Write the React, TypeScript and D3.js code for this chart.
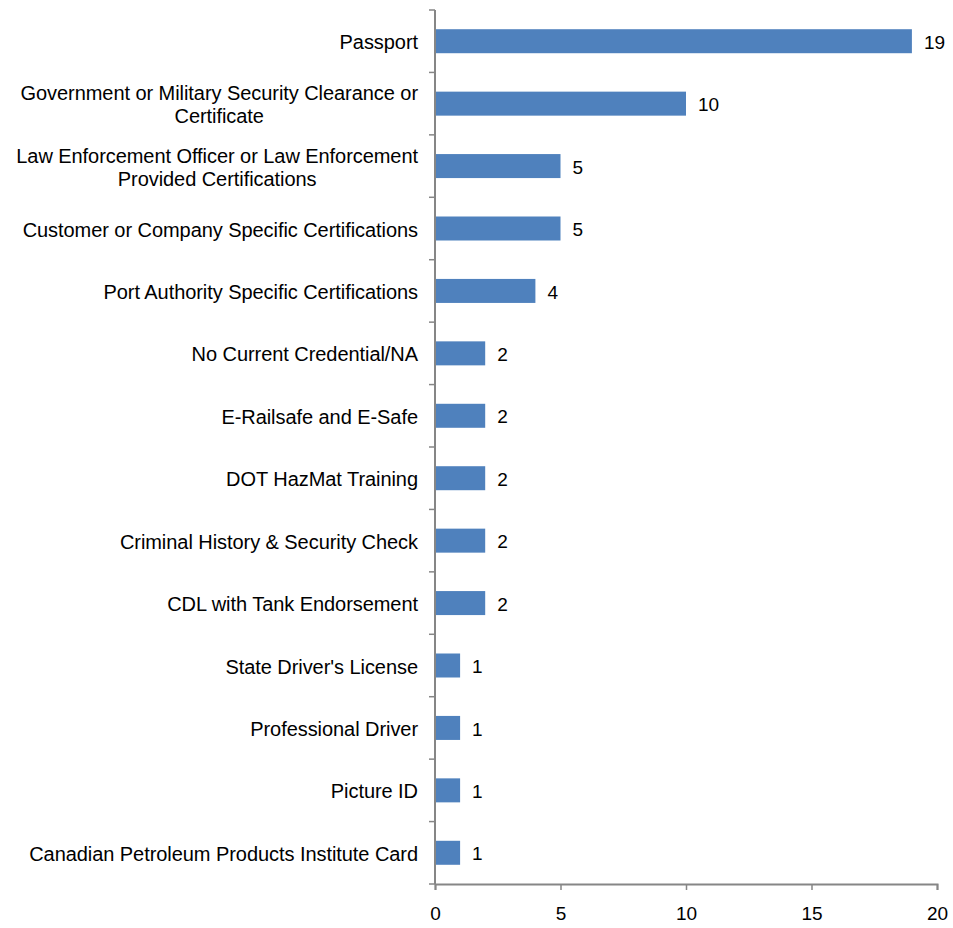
import React, { useRef, useEffect } from "react";
import * as d3 from "d3";

const categories: string[][] = [
  ["Passport"],
  ["Government or Military Security Clearance or", "Certificate"],
  ["Law Enforcement Officer or Law Enforcement", "Provided Certifications"],
  ["Customer or Company Specific Certifications"],
  ["Port Authority Specific Certifications"],
  ["No Current Credential/NA"],
  ["E-Railsafe and E-Safe"],
  ["DOT HazMat Training"],
  ["Criminal History & Security Check"],
  ["CDL with Tank Endorsement"],
  ["State Driver's License"],
  ["Professional Driver"],
  ["Picture ID"],
  ["Canadian Petroleum Products Institute Card"],
];
const counts = [19, 10, 5, 5, 4, 2, 2, 2, 2, 2, 1, 1, 1, 1];
const xTicks = [0, 5, 10, 15, 20];

const App = () => {
  const chartRef = useRef<SVGSVGElement>(null);

  useEffect(() => {
    const svg = d3.select(chartRef.current);
    svg.selectAll("*").remove();

    const margin = { top: 10, left: 435 };
    const innerW = 937 - margin.left;
    const innerH = 884 - margin.top;
    const labelSize = 20;
    const numSize = 19;
    const axisColor = "#868686";
    const barColor = "#4F81BD";
    const font = "'Liberation Sans', Arial, Helvetica, sans-serif";

    const x = d3.scaleLinear().domain([0, 20]).range([0, innerW]);
    const y = d3
      .scaleBand<number>()
      .domain(d3.range(categories.length))
      .range([0, innerH])
      .padding(0);
    const barH = 24;

    const g = svg
      .append("g")
      .attr("transform", `translate(${margin.left},${margin.top})`);

    // bars
    g.selectAll(".bar")
      .data(counts)
      .enter()
      .append("rect")
      .attr("class", "bar")
      .attr("x", 0)
      .attr("y", (d, i) => y(i)! + (y.bandwidth() - barH) / 2)
      .attr("width", (d) => x(d))
      .attr("height", barH)
      .attr("fill", barColor);

    // value labels
    g.selectAll(".val")
      .data(counts)
      .enter()
      .append("text")
      .attr("class", "val")
      .attr("x", (d) => x(d) + 12)
      .attr("y", (d, i) => y(i)! + y.bandwidth() / 2)
      .attr("dy", "0.4em")
      .style("font-family", font)
      .style("font-size", `${numSize}px`)
      .attr("fill", "#000")
      .text((d) => d);

    // y axis line + ticks at band edges
    g.append("line")
      .attr("x1", 0)
      .attr("x2", 0)
      .attr("y1", 0)
      .attr("y2", innerH)
      .attr("stroke", axisColor)
      .attr("stroke-width", 2);
    g.selectAll(".ytick")
      .data(d3.range(categories.length + 1))
      .enter()
      .append("line")
      .attr("class", "ytick")
      .attr("x1", -6)
      .attr("x2", 0)
      .attr("y1", (i) => i * y.bandwidth())
      .attr("y2", (i) => i * y.bandwidth())
      .attr("stroke", axisColor)
      .attr("stroke-width", 1.5);

    // category labels
    const labels = g
      .selectAll(".cat")
      .data(categories)
      .enter()
      .append("text")
      .attr("class", "cat")
      .style("font-family", font)
      .style("font-size", `${labelSize}px`)
      .style("letter-spacing", "-0.06px")
      .attr("fill", "#000");
    labels.each(function (lines, i) {
      const t = d3.select(this);
      const cy = y(i)! + y.bandwidth() / 2;
      const lh = 23;
      const spans = lines.map((ln, k) =>
        t
          .append("tspan")
          .attr("y", cy + (k - (lines.length - 1) / 2) * lh)
          .attr("dy", "0.4em")
          .text(ln)
      );
      const widths = spans.map((s) => (s.node() as SVGTSpanElement).getComputedTextLength());
      const maxW = d3.max(widths) || 0;
      const right = -17;
      spans.forEach((s) => s.attr("x", right - maxW / 2));
      t.attr("text-anchor", "middle");
    });

    // x axis
    const xAxis = g
      .append("g")
      .attr("transform", `translate(0,${innerH})`)
      .call(d3.axisBottom(x).tickValues(xTicks).tickSize(6).tickPadding(17));
    xAxis.select(".domain").attr("stroke", axisColor).attr("stroke-width", 2);
    xAxis.selectAll(".tick line").attr("stroke", axisColor).attr("stroke-width", 1.5);
    xAxis
      .selectAll(".tick text")
      .style("font-family", font)
      .style("font-size", `${numSize}px`)
      .attr("fill", "#000");
  }, []);

  return (
    <svg
      ref={chartRef}
      width={953}
      height={928}
      style={{ position: "absolute", left: 0, top: 0, background: "#fff" }}
    />
  );
};

export default App;
